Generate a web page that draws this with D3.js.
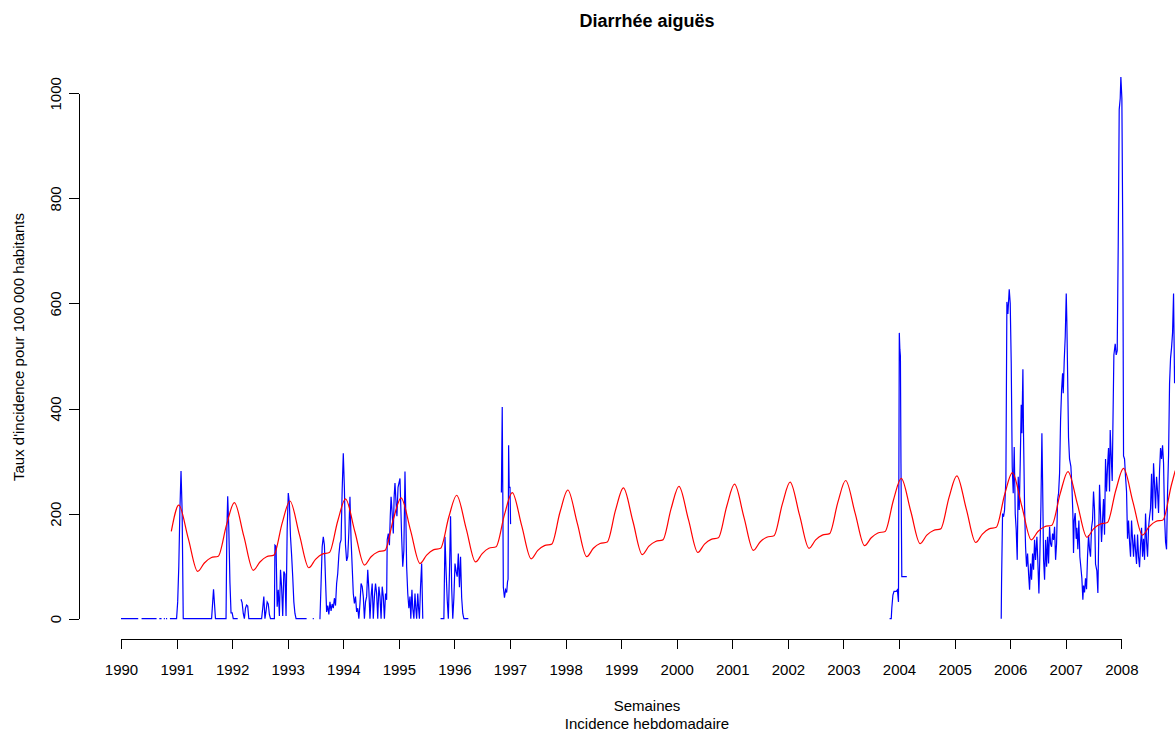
<!DOCTYPE html>
<html lang="fr">
  <head>
    <meta charset="UTF-8" />
    <title>Diarrhée aiguës</title>
    <script src="https://d3js.org/d3.v7.min.js"></script>
    <style>
      body {
        margin: 0;
        background-color: #ffffff;
      }

      svg {
        display: block;
        font-family: "Liberation Sans", Arial, sans-serif;
      }

      .axis path,
      .axis line {
        fill: none;
        stroke: #000;
        shape-rendering: crispEdges;
      }

      .axis text {
        font-size: 15px;
        fill: #000;
      }
    </style>
  </head>
  <body>
    <div id="chart"></div>

    <script>
      // Weekly incidence (blue), [decimal year, value]; null = missing week
      const blue1990to1993 = [
        [1990.0, 0], [1990.31, 0], [1990.34, null],
        [1990.37, 0], [1990.64, 0], [1990.66, null],
        [1990.69, 0], [1990.73, 0], [1990.75, null],
        [1990.77, 0], [1990.79, 0], [1990.8, null],
        [1990.81, 0], [1990.83, 0], [1990.85, null],
        [1990.88, 0], [1991.0, 0], [1991.02, 32], [1991.04, 100], [1991.06, 207], [1991.08, 281], [1991.1, 205], [1991.12, 0],
        [1991.63, 0], [1991.645, 24], [1991.665, 56], [1991.685, 24], [1991.7, 0],
        [1991.89, 0], [1991.905, 170], [1991.92, 233], [1991.94, 172], [1991.96, 70], [1991.98, 11], [1992.0, 11], [1992.02, 0], [1992.1, 0], [1992.13, null],
        [1992.16, 37], [1992.18, 30], [1992.2, 10], [1992.22, 0], [1992.24, 20], [1992.26, 26], [1992.28, 24], [1992.3, 0],
        [1992.53, 0], [1992.55, 20], [1992.57, 42], [1992.59, 0], [1992.61, 15], [1992.63, 32], [1992.65, 28], [1992.67, 8], [1992.69, 0],
        [1992.76, 0], [1992.77, 140], [1992.79, 138], [1992.81, 23], [1992.83, 55], [1992.85, 5], [1992.87, 93], [1992.89, 60], [1992.91, 5],
        [1992.93, 90], [1992.95, 85], [1992.97, 5], [1992.99, 169], [1993.01, 239], [1993.03, 220], [1993.05, 156], [1993.07, 121],
        [1993.09, 80], [1993.11, 32], [1993.13, 10], [1993.15, 0], [1993.34, 0], [1993.4, null],
        [1993.45, 0], [1993.47, 0]
      ];

      const blue1993to1996 = [
        [1993.57, 0], [1993.58, 0], [1993.6, 67], [1993.62, 137], [1993.64, 156], [1993.66, 140], [1993.68, 74], [1993.7, 13],
        [1993.72, 25], [1993.74, 8], [1993.76, 32], [1993.78, 15], [1993.8, 28], [1993.82, 20], [1993.84, 39], [1993.86, 25],
        [1993.88, 67], [1993.9, 86], [1993.92, 121], [1993.94, 143], [1993.96, 150], [1993.98, 245], [1994.0, 315], [1994.02, 248],
        [1994.04, 140], [1994.06, 110], [1994.08, 118], [1994.1, 165], [1994.12, 232], [1994.14, 150], [1994.16, 99],
        [1994.18, 48], [1994.2, 29], [1994.22, 42], [1994.24, 13], [1994.26, 20], [1994.28, 0], [1994.3, 29], [1994.32, 67],
        [1994.34, 61], [1994.36, 42], [1994.38, 0], [1994.4, 32], [1994.42, 42], [1994.44, 93], [1994.46, 55], [1994.48, 0],
        [1994.5, 42], [1994.52, 67], [1994.54, 0], [1994.56, 42], [1994.58, 67], [1994.6, 48], [1994.62, 0], [1994.64, 61],
        [1994.66, 42], [1994.68, 0], [1994.7, 61], [1994.72, 42], [1994.74, 0], [1994.76, 48], [1994.78, 36],
        [1994.79, 150], [1994.81, 162], [1994.83, 140], [1994.845, 194], [1994.86, 232], [1994.88, 200], [1994.9, 162],
        [1994.915, 232], [1994.93, 258], [1994.95, 220], [1994.965, 195], [1994.985, 250], [1995.02, 267], [1995.035, 213],
        [1995.05, 156], [1995.07, 99], [1995.09, 130], [1995.11, 280], [1995.125, 200], [1995.14, 99], [1995.16, 48],
        [1995.18, 20], [1995.2, 42], [1995.215, 0], [1995.235, 55], [1995.25, 20], [1995.27, 0], [1995.29, 48], [1995.305, 20],
        [1995.32, 0], [1995.34, 48], [1995.355, 20], [1995.37, 0], [1995.39, 61], [1995.41, 105], [1995.43, 0], [1995.6, null],
        [1995.75, 0], [1995.81, 0], [1995.83, 156], [1995.85, 90], [1995.87, 36], [1995.89, 0], [1995.91, 86], [1995.93, 195],
        [1995.95, 60], [1995.97, 0], [1995.99, 40], [1996.01, 105], [1996.03, 90], [1996.05, 80], [1996.07, 124], [1996.09, 60],
        [1996.11, 118], [1996.13, 40], [1996.15, 10], [1996.17, 0], [1996.25, 0]
      ];

      const blue1997 = [
        [1996.845, 240], [1996.86, 403], [1996.87, 240], [1996.88, 60], [1996.9, 40], [1996.92, 55], [1996.94, 50],
        [1996.955, 70], [1996.965, 75], [1996.975, 330], [1996.985, 250], [1997.0, 250], [1997.01, 180]
      ];

      const blue2004 = [
        [2003.83, 0], [2003.86, 0], [2003.87, 20], [2003.89, 45], [2003.91, 52], [2003.95, 52], [2003.97, 55], [2003.99, 32],
        [2004.005, 544], [2004.015, 513], [2004.025, 500], [2004.035, 296], [2004.05, 80], [2004.14, 80]
      ];

      const blue2006to2008 = [
        [2005.839, 0], [2005.845, 70], [2005.863, 200], [2005.881, 194], [2005.899, 207], [2005.923, 264], [2005.941, 603],
        [2005.959, 580], [2005.983, 627], [2006.001, 600], [2006.019, 486], [2006.037, 289], [2006.055, 239], [2006.073, 327],
        [2006.091, 200], [2006.109, 169], [2006.127, 112], [2006.145, 270], [2006.163, 207], [2006.181, 296], [2006.199, 407],
        [2006.211, 353], [2006.229, 475], [2006.241, 346], [2006.259, 213], [2006.277, 137], [2006.295, 99], [2006.313, 124],
        [2006.331, 86], [2006.349, 55], [2006.367, 105], [2006.385, 74], [2006.403, 124], [2006.421, 93], [2006.439, 150],
        [2006.457, 112], [2006.481, 156], [2006.499, 105], [2006.517, 48], [2006.535, 124], [2006.553, 213], [2006.571, 353],
        [2006.583, 264], [2006.601, 112], [2006.619, 74], [2006.637, 150], [2006.655, 99], [2006.673, 156], [2006.691, 105],
        [2006.709, 175], [2006.727, 143], [2006.745, 137], [2006.763, 162], [2006.781, 150], [2006.799, 175], [2006.817, 112],
        [2006.835, 143], [2006.853, 226], [2006.871, 239], [2006.889, 277], [2006.907, 378], [2006.925, 435], [2006.943, 467],
        [2006.955, 429], [2006.973, 492], [2006.991, 537], [2007.009, 619], [2007.02, 565], [2007.038, 434], [2007.05, 345],
        [2007.068, 304], [2007.092, 290], [2007.11, 255], [2007.128, 201], [2007.14, 125], [2007.152, 187], [2007.17, 201],
        [2007.188, 152], [2007.2, 173], [2007.218, 132], [2007.236, 187], [2007.254, 118], [2007.272, 98], [2007.29, 77],
        [2007.308, 36], [2007.32, 63], [2007.338, 50], [2007.356, 77], [2007.374, 56], [2007.392, 118], [2007.41, 159],
        [2007.428, 132], [2007.446, 118], [2007.464, 173], [2007.482, 187], [2007.5, 242], [2007.518, 207], [2007.536, 104],
        [2007.56, 91], [2007.578, 49], [2007.596, 173], [2007.608, 255], [2007.626, 200], [2007.644, 146], [2007.662, 187],
        [2007.68, 228], [2007.698, 160], [2007.716, 304], [2007.734, 242], [2007.752, 290], [2007.77, 325], [2007.788, 242],
        [2007.8, 359], [2007.818, 310], [2007.836, 262], [2007.848, 362], [2007.866, 502], [2007.89, 523], [2007.908, 502],
        [2007.926, 510], [2007.944, 708], [2007.962, 969], [2007.98, 990], [2007.992, 1031], [2008.01, 990], [2008.028, 701],
        [2008.04, 310], [2008.058, 304], [2008.076, 270], [2008.094, 242], [2008.112, 152], [2008.13, 187], [2008.148, 146],
        [2008.166, 118], [2008.184, 187], [2008.202, 150], [2008.22, 118], [2008.238, 160], [2008.256, 130], [2008.274, 104],
        [2008.292, 160], [2008.31, 118], [2008.328, 98], [2008.346, 140], [2008.364, 173], [2008.382, 118], [2008.4, 152],
        [2008.418, 112], [2008.436, 200], [2008.454, 146], [2008.472, 118], [2008.49, 173], [2008.508, 194], [2008.526, 210],
        [2008.544, 276], [2008.562, 187], [2008.58, 296], [2008.598, 255], [2008.616, 210], [2008.634, 270], [2008.652, 242],
        [2008.67, 201], [2008.688, 283], [2008.706, 325], [2008.724, 304], [2008.742, 330], [2008.76, 296], [2008.778, 194],
        [2008.796, 146], [2008.814, 132], [2008.832, 242], [2008.85, 310], [2008.868, 448], [2008.886, 496], [2008.904, 516],
        [2008.922, 544], [2008.94, 619], [2008.958, 448], [2008.97, 480]
      ];

      // Seasonal model (red): one value per year at each phase of the cycle
      const redYears = [1991, 1992, 1993, 1994, 1995, 1996, 1997, 1998, 1999, 2000, 2001, 2002, 2003, 2004, 2005, 2006, 2007, 2008];
      const redPeak = [216, 221, 224, 228, 230, 235, 240, 245, 249, 252, 256, 260, 263, 267, 272, 278, 280, 286];
      const redFall = [153, 157, 160, 165, 168, 172, 177, 182, 186, 189, 193, 197, 201, 205, 209, 214, 218, 222];
      const redTrough = [90, 92, 97, 102, 105, 108, 114, 118, 122, 126, 130, 134, 139, 143, 145, 150, 155, 159];
      const redRise = [106, 108, 113, 118, 121, 124, 130, 134, 138, 142, 146, 150, 154, 159, 161, 166, 171, 175];
      const redShoulderA = [116, 118, 123, 127, 131, 134, 139, 143, 147, 151, 155, 159, 163, 168, 171, 175, 180, 185];
      const redShoulderB = [119, 121, 126, 130, 134, 137, 142, 146, 150, 154, 158, 162, 166, 171, 174, 178, 183, 188];
      const redClimb = [179, 182, 186, 189, 194, 198, 203, 207, 210, 214, 218, 222, 226, 231, 236, 238, 244, 254];
      const redStart = [1990.905, 166];
      const redEnd = [2008.97, 282];

      const xTickYears = d3.range(1990, 2009);
      const yTicks = [0, 200, 400, 600, 800, 1000];

      // Layout (R-like plot region, partly cut at the right edge)
      const W = 1175,
        H = 733;
      const plot = { left: 79, right: 1215, top: 55, bottom: 639 };

      const x = d3.scaleLinear().domain([1990, 2008.93]).range([121, 1173]);
      const y = d3.scaleLinear().domain([0, 1000]).range([618.7, 93.3]);

      const svg = d3
        .select("#chart")
        .append("svg")
        .attr("width", W)
        .attr("height", H);

      // X axis: only spans 1990..2008 like R's axis()
      const xAxisScale = x.copy().domain([1990, 2008]).range([x(1990), x(2008)]);
      const gx = svg
        .append("g")
        .attr("class", "axis")
        .attr("transform", `translate(0,${plot.bottom})`)
        .call(
          d3
            .axisBottom(xAxisScale)
            .tickValues(xTickYears)
            .tickFormat(d3.format("d"))
            .tickSize(10)
            .tickSizeOuter(0)
        );
      gx.selectAll("text").attr("y", 36).attr("dy", null);

      // Y axis with labels parallel to the axis
      const gy = svg
        .append("g")
        .attr("class", "axis")
        .attr("transform", `translate(${plot.left},0)`)
        .call(
          d3
            .axisLeft(y)
            .tickValues(yTicks)
            .tickFormat(d3.format("d"))
            .tickSize(10)
            .tickSizeOuter(0)
        );
      gy.selectAll("text")
        .attr("x", null)
        .attr("dy", null)
        .attr("text-anchor", "middle")
        .attr("transform", "translate(-18,0) rotate(-90)");

      // Lines
      const line = d3
        .line()
        .defined((d) => d[1] !== null)
        .x((d) => x(d[0]))
        .y((d) => y(d[1]));

      const blueParts = [blue1990to1993, blue1993to1996, blue1997, blue2004, blue2006to2008];
      svg
        .selectAll(".blue")
        .data(blueParts)
        .enter()
        .append("path")
        .attr("class", "blue")
        .attr("d", line)
        .attr("fill", "none")
        .attr("stroke", "#0000ff")
        .attr("stroke-width", 1.2);

      const phases = [0.04, 0.21, 0.38, 0.5, 0.62, 0.75, 0.9];
      const redPoints = [redStart];
      redYears.forEach((yr, i) => {
        const vals = [redPeak[i], redFall[i], redTrough[i], redRise[i], redShoulderA[i], redShoulderB[i], redClimb[i]];
        phases.forEach((p, j) => redPoints.push([yr + p, vals[j]]));
      });
      redPoints.push(redEnd);

      svg
        .append("path")
        .datum(redPoints)
        .attr("d", line.curve(d3.curveMonotoneX))
        .attr("fill", "none")
        .attr("stroke", "#ff0000")
        .attr("stroke-width", 1.2);

      // Titles
      const cx = (plot.left + plot.right) / 2;
      svg
        .append("text")
        .attr("x", cx)
        .attr("y", 27)
        .attr("text-anchor", "middle")
        .style("font-size", "18px")
        .style("font-weight", "bold")
        .text("Diarrhée aiguës");

      svg
        .append("text")
        .attr("x", cx)
        .attr("y", 711)
        .attr("text-anchor", "middle")
        .style("font-size", "15px")
        .text("Semaines");

      svg
        .append("text")
        .attr("x", cx)
        .attr("y", 729)
        .attr("text-anchor", "middle")
        .style("font-size", "15px")
        .text("Incidence hebdomadaire");

      svg
        .append("text")
        .attr("text-anchor", "middle")
        .attr("transform", `translate(24,${(plot.top + plot.bottom) / 2}) rotate(-90)`)
        .style("font-size", "15px")
        .text("Taux d'incidence pour 100 000 habitants");
    </script>
  </body>
</html>
